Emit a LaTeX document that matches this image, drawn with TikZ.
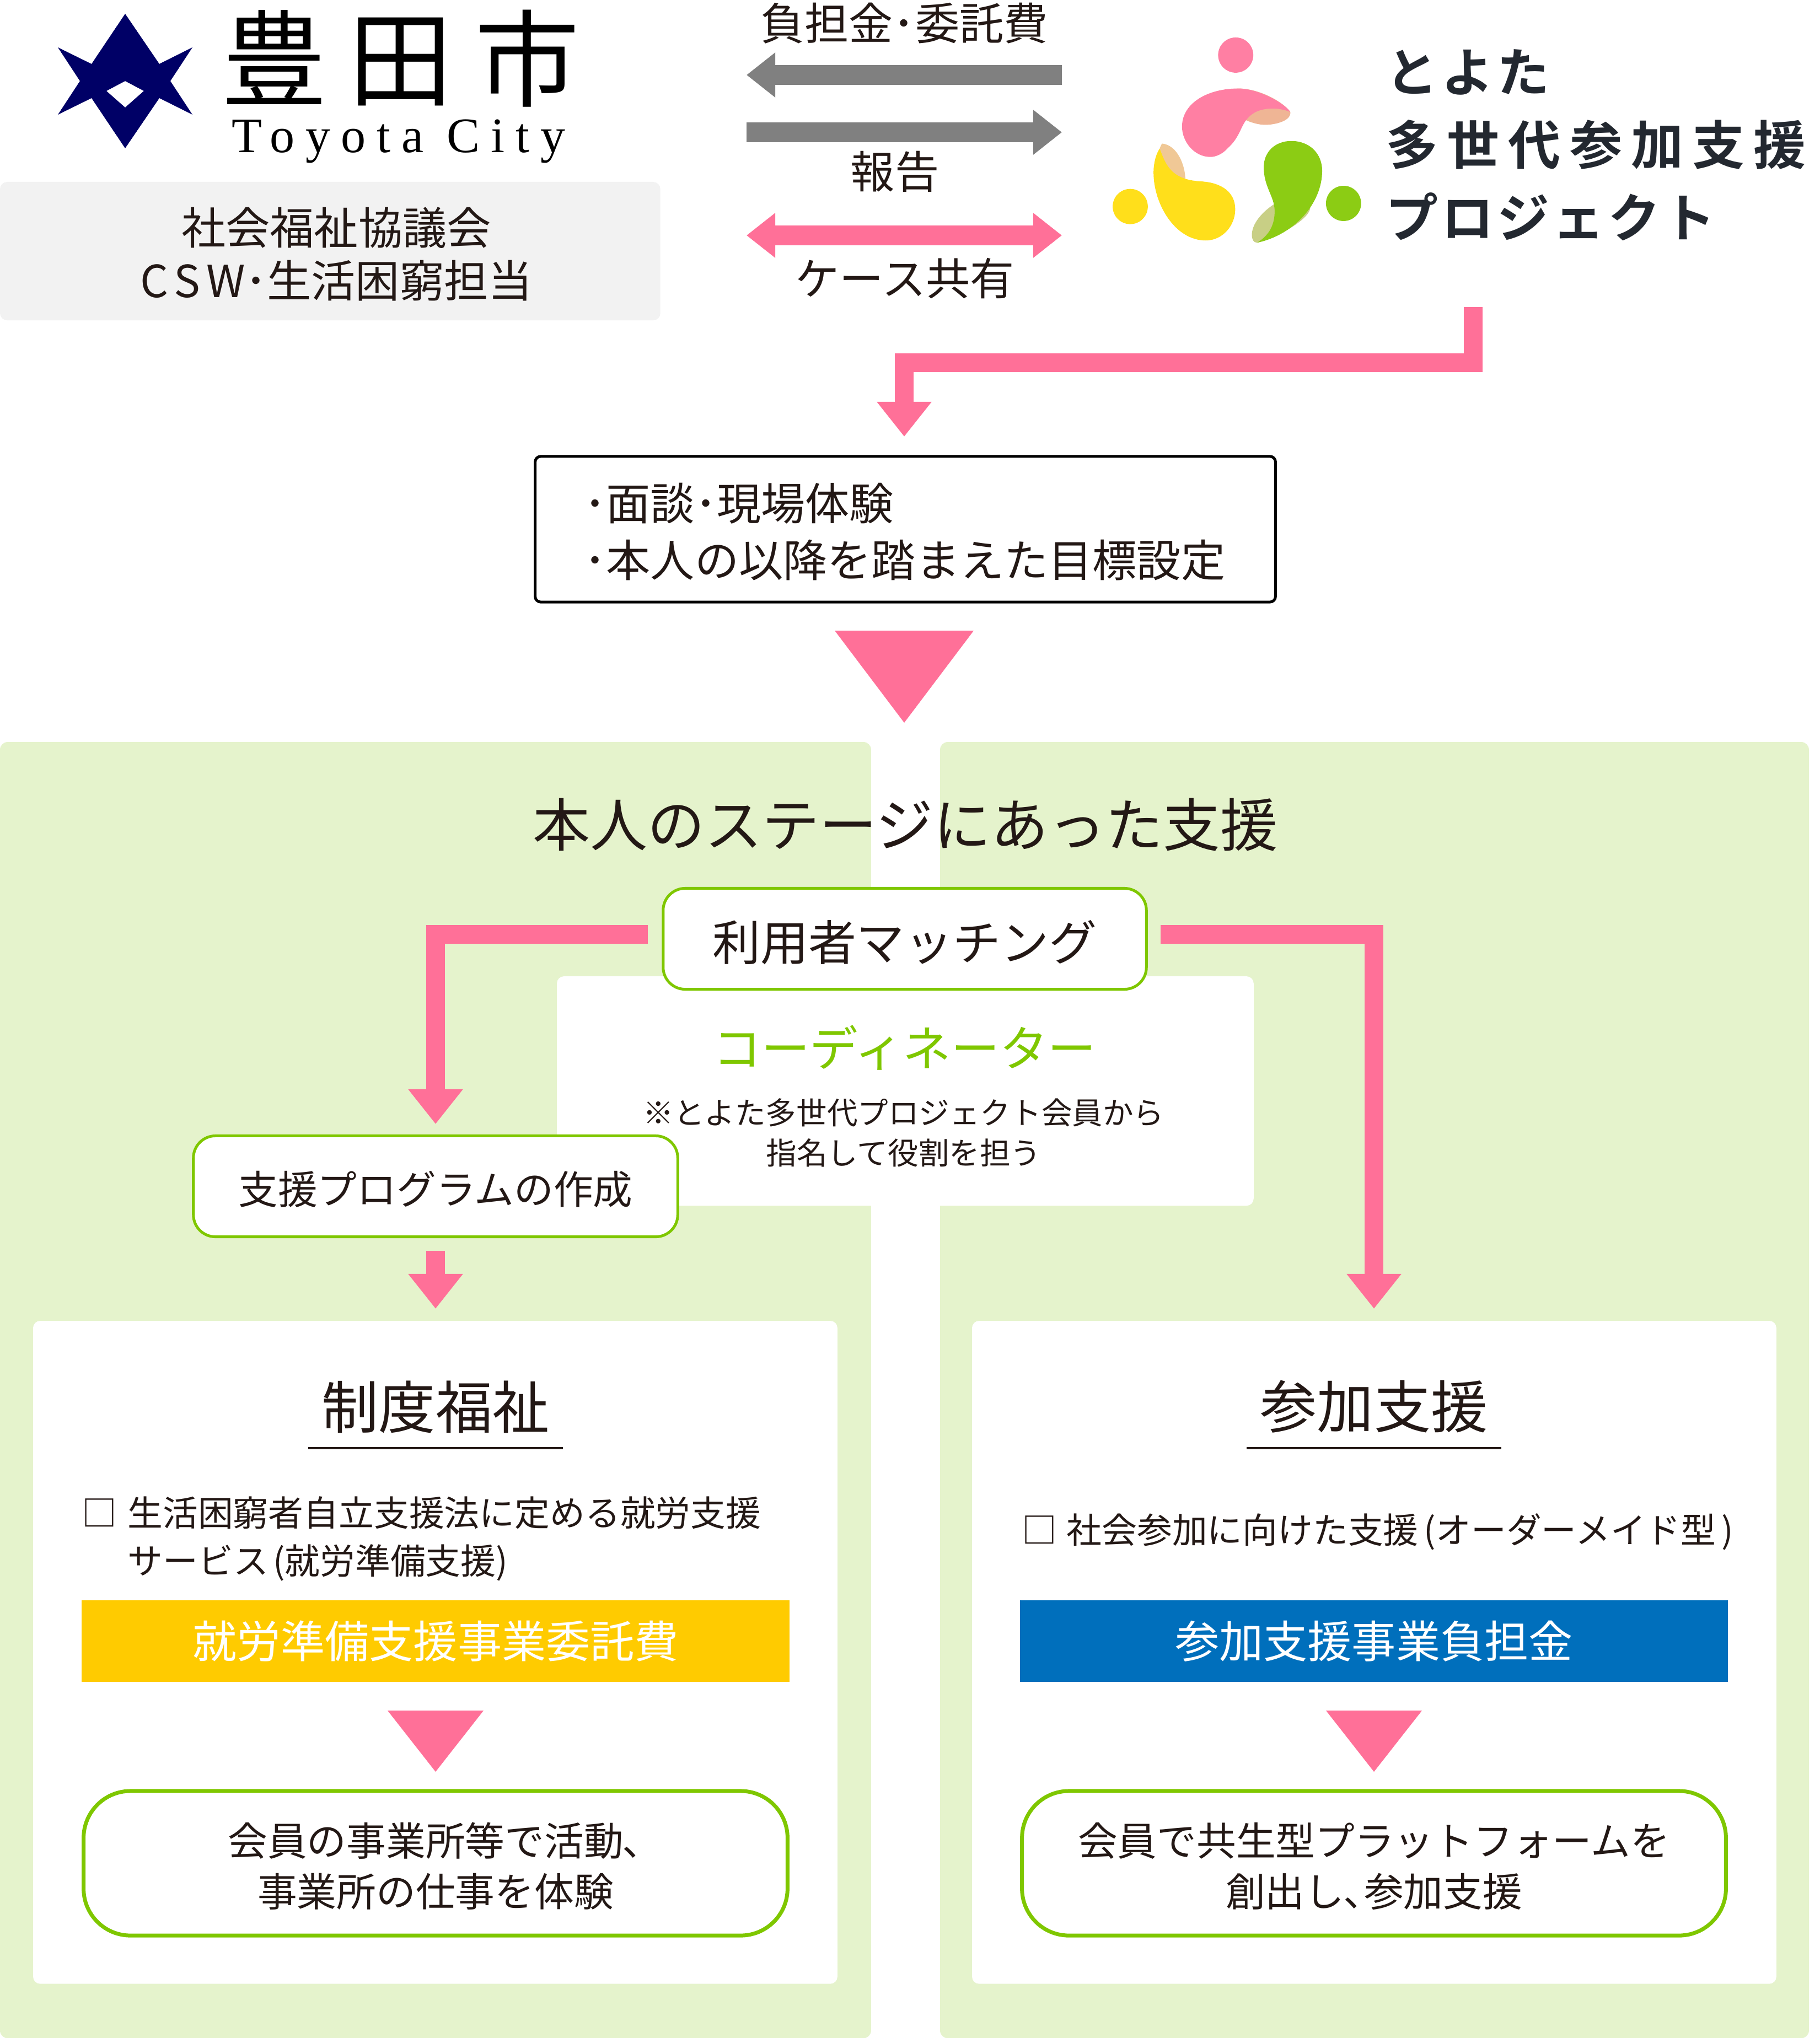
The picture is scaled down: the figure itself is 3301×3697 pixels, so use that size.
\documentclass[tikz,border=0pt]{standalone}
\usepackage{fontspec}
\usetikzlibrary{arrows.meta}
\setmainfont{Noto Sans CJK JP}
\newfontfamily\romanfont{Liberation Serif}[LetterSpace=22]
\newfontfamily\cityfont{Noto Sans CJK JP}[LetterSpace=21]
\newfontfamily\projfont{Noto Sans CJK JP Bold}[LetterSpace=17,BoldFont={}]
\newfontfamily\kanafont{Noto Sans CJK JP Bold}[LetterSpace=6,BoldFont={}]
\definecolor{pinkc}{HTML}{FF7098}
\definecolor{greenc}{HTML}{7FC700}
\definecolor{panelc}{HTML}{E5F3CC}
\definecolor{inkc}{HTML}{231815}
\definecolor{navyc}{HTML}{000066}
\definecolor{goldc}{HTML}{FFCB00}
\definecolor{bluec}{HTML}{006FBC}
\definecolor{grayc}{HTML}{808080}
\definecolor{logopink}{HTML}{FF7FA3}
\definecolor{logopeach}{HTML}{EFB595}
\definecolor{logotan}{HTML}{F0C896}
\definecolor{logoyellow}{HTML}{FFDF1B}
\definecolor{logogreen}{HTML}{8CCC14}
\definecolor{logokhaki}{HTML}{C8CF85}
\definecolor{logoink}{HTML}{232830}
\tikzset{
	panel/.style={fill=panelc,rounded corners=.14cm,minimum width=#1,anchor=north west,inner sep=0,outer sep=0,minimum height=23.5cm},
	whitebox/.style={fill=white,rounded corners=.13cm,inner sep=0,outer sep=0},
	stepbox/.style={draw=greenc,line width=.05cm,fill=white,rounded corners=.4cm,inner sep=0,outer sep=0},
	resultbox/.style={stepbox,line width=.07cm,rounded corners=.85cm,minimum width=12.76cm,minimum height=2.62cm},
	paybox/.style={minimum width=12.83cm,minimum height=1.48cm,inner sep=0,text=white,font=\fontsize{22.8}{26}\selectfont},
	graybar/.style={draw=grayc,line width=.35cm,-{Triangle[length=.52cm,width=.78cm]}},
	pinkbar/.style={draw=pinkc,line width=.34cm,-{Triangle[length=.63cm,width=.95cm]}},
	lbl/.style={text=inkc,inner sep=0,font=\fontsize{#1}{#1}\selectfont},
	restxt/.style={inner sep=0,align=center,font=\fontsize{20.4}{26.2}\selectfont},
}
\begin{document}
\begin{tikzpicture}[x=.01cm,y=-.01cm,line join=miter,text=inkc]
	\useasboundingbox (0,0) rectangle (3301,3697);
	\node[panel=15.79cm] (leftp) at (0,1346) {};
	\node[panel=15.75cm] (rightp) at (1705,1346) {};
	\node[whitebox,anchor=north west,minimum width=14.58cm,minimum height=12.02cm] (leftw) at (60,2396) {};
	\node[whitebox,anchor=north west,minimum width=14.58cm,minimum height=12.02cm] (rightw) at (1763,2396) {};
	\node[whitebox,anchor=north west,minimum width=12.63cm,minimum height=4.16cm] (coordw) at (1010,1771) {};
	\node[whitebox,fill=black!5,anchor=north west,minimum width=11.97cm,minimum height=2.51cm] (csw) at (0,330) {};
	\node[inner sep=0,align=center,font=\fontsize{22.8}{27.5}\selectfont] (cswtxt) at (610,461) {社会福祉協議会\\C\kern.13em S\kern.13em W･生活困窮担当};
	\fill[navyc,even odd rule] (227,25)--(289,116)--(349,86)--(309,147)--(349,208)--(289,178)--(227,269)--(166,178)--(105,208)--(145,147)--(105,86)--(166,116)--cycle
		(227,147)--(261,165)--(227,195)--(193,165)--cycle;
	\node[inner sep=0,text=black,font=\cityfont\fontsize{54}{54}\selectfont] (city) at (727,106) {豊田市};
	\node[inner sep=0,text=black,anchor=base,font=\romanfont\fontsize{25.6}{26}\selectfont] (cityen) at (723,277) {Toyota City};
	\begin{scope}[shift={(1950,30)},xscale=.8616,yscale=.333]
		\fill[logopink] (338,210) ellipse (37 and 96);
		\fill[logoyellow] (116,1035) ellipse (37 and 96);
		\fill[logogreen] (565,1018) ellipse (37 and 96);
		\fill[logopeach] (453,520) .. controls (455,570) and (420,590) .. (400,590) .. controls (380,590) and (340,560) .. (320,480) .. controls (300,420) and (320,400) .. (343,392) .. controls (390,392) and (440,470) .. (453,520) -- cycle;
		\fill[logopink] (343,392) .. controls (385,392) and (440,470) .. (453,520) .. controls (430,495) and (400,495) .. (380,520) .. controls (345,570) and (355,640) .. (320,720) .. controls (310,750) and (295,765) .. (285,765) .. controls (250,765) and (225,680) .. (225,600) .. controls (225,470) and (280,392) .. (343,392) -- cycle;
		\fill[logotan] (183,692) .. controls (215,700) and (232,810) .. (232,890) .. controls (232,960) and (215,1050) .. (190,1065) .. controls (175,980) and (165,760) .. (183,692) -- cycle;
		\fill[logoyellow] (178,720) .. controls (190,800) and (200,890) .. (265,898) .. controls (310,905) and (337,960) .. (337,1050) .. controls (337,1140) and (310,1220) .. (275,1220) .. controls (210,1220) and (165,1020) .. (165,850) .. controls (165,790) and (172,740) .. (178,720) -- cycle;
		\fill[logokhaki] (460,983) .. controls (430,983) and (372,1090) .. (372,1190) .. controls (372,1215) and (376,1232) .. (383,1232) .. controls (430,1200) and (495,1100) .. (495,1040) .. controls (495,1000) and (480,983) .. (460,983) -- cycle;
		\fill[logogreen] (455,678) .. controls (495,678) and (520,750) .. (520,840) .. controls (520,1020) and (460,1190) .. (383,1232) .. controls (410,1190) and (420,1130) .. (420,1060) .. controls (420,980) and (397,930) .. (397,820) .. controls (397,740) and (420,678) .. (455,678) -- cycle;
	\end{scope}
	\node[anchor=west,inner sep=0,align=left,text=logoink,font=\projfont\fontsize{27}{37.5}\selectfont] (proj) at (2513,263) {{\kanafont とよた}\\多世代参加支援\\{\kanafont プロジェクト}};
	\coordinate (payr) at (1926,136);
	\coordinate (payl) at (1354,136);
	\coordinate (repl) at (1354,240);
	\coordinate (repr) at (1926,240);
	\coordinate (casel) at (1354,427);
	\coordinate (caser) at (1926,427);
	\draw[graybar] (payr) -- (payl);
	\draw[graybar] (repl) -- (repr);
	\draw[pinkbar,line width=.35cm,{Triangle[length=.52cm,width=.78cm]}-{Triangle[length=.52cm,width=.78cm]}] (casel) -- (caser);
	\node[lbl=22.8] (paylbl) at (1640,42) {負担金･委託費};
	\node[lbl=22.8] (replbl) at (1623,311) {報告};
	\node[lbl=22.8] (caselbl) at (1641,505) {ケース共有};
	\node[draw=black,line width=.05cm,fill=white,rounded corners=.1cm,minimum width=13.42cm,minimum height=2.64cm,inner sep=0,outer sep=0] (talk) at (1642,960) {};
	\node[anchor=west,inner sep=0,align=left,font=\fontsize{22.8}{29.3}\selectfont] (talktxt) at (1059,965) {･面談･現場体験\\･本人の以降を踏まえた目標設定};
	\coordinate (projout) at (2672,557);
	\coordinate (projbend) at (1640,658);
	\coordinate (talkin) at (1640,792);
	\draw[pinkbar] (projout) |- (projbend) -- (talkin);
	\foreach \x/\y/\w/\h in {1640/1144/126/167,790/3103/87/111,2492/3103/87/111}
		\fill[pinkc] (\x-\w,\y) -- (\x+\w,\y) -- (\x,\y+\h) -- cycle;
	\node[lbl=29.6] (title) at (1642,1496) {本人のステージにあった支援};
	\node[lbl=24.9,text=greenc] (coord) at (1641,1901) {コーディネーター};
	\node[lbl=15.8,align=center,font=\fontsize{15.8}{20.7}\selectfont] (coordnote) at (1639,2055) {※とよた多世代プロジェクト会員から\\指名して役割を担う};
	\node[stepbox,minimum width=8.76cm,minimum height=1.83cm] (match) at (1641,1703) {};
	\node[lbl=24.75] (matchtxt) at (1641,1710) {利用者マッチング};
	\node[stepbox,minimum width=8.78cm,minimum height=1.83cm] (prog) at (790,2152) {};
	\node[lbl=20.4] (progtxt) at (790,2157) {支援プログラムの作成};
	\coordinate (matchl) at (1175,1695);
	\coordinate (matchr) at (2105,1695);
	\coordinate (progin) at (790,2039);
	\coordinate (progout) at (790,2269);
	\coordinate (welin) at (790,2374);
	\coordinate (partin) at (2492,2374);
	\draw[pinkbar] (matchl) -| (progin);
	\draw[pinkbar] (matchr) -| (partin);
	\draw[pinkbar] (progout) -- (welin);
	\foreach \x/\a/\t in {790/wel/制度福祉,2492/part/参加支援} {
		\node[lbl=29.3] (\a h) at (\x,2552) {\t};
		\draw[line width=.035cm,inkc] (\x-231,2627) -- (\x+231,2627);
	}
	\node[anchor=north west,inner sep=0,align=left,font=\fontsize{18.15}{24.7}\selectfont] (welitem) at (148,2714) {□\hspace{.19cm}生活困窮者自立支援法に定める就労支援\\\hspace*{.83cm}サービス\hspace{.08cm}(就労準備支援)\hspace{.08cm}};
	\node[anchor=west,inner sep=0,font=\fontsize{18.15}{24.7}\selectfont] (partitem) at (1853,2779) {□\hspace{.17cm}社会参加に向けた支援\hspace{.1cm}(オーダーメイド型\hspace{.1cm})};
	\node[paybox,fill=goldc] (welpay) at (790,2977) {就労準備支援事業委託費};
	\node[paybox,fill=bluec] (partpay) at (2492,2977) {参加支援事業負担金};
	\node[resultbox] (welres) at (790,3380) {};
	\node[resultbox] (partres) at (2492,3380) {};
	\node[restxt] (welrestxt) at (790,3385) {会員の事業所等で活動､\\事業所の仕事を体験};
	\node[restxt] (partrestxt) at (2492,3385) {会員で共生型プラットフォームを\\創出し､参加支援};
\end{tikzpicture}
\end{document}
